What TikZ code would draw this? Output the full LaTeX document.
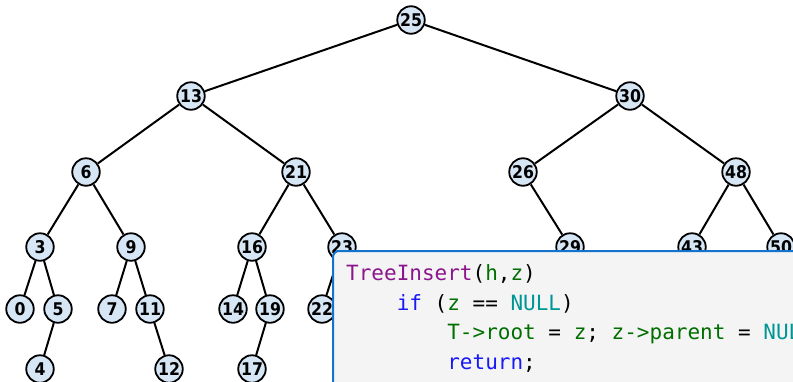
\documentclass[tikz,border=0pt]{standalone}
\usepackage{fontspec}
\newfontfamily\keyfont{DejaVu Sans Condensed}
\newfontfamily\codefont{DejaVu Sans Mono}
\usepackage{tikz}
\usetikzlibrary{positioning}

\definecolor{keyfill}{RGB}{215,230,245}
\definecolor{codeframe}{RGB}{20,115,205}
\definecolor{codebg}{RGB}{244,244,244}
\definecolor{cfunc}{RGB}{140,20,140}
\definecolor{cvar}{RGB}{0,110,0}
\definecolor{cctrl}{RGB}{25,25,245}
\definecolor{cconst}{RGB}{0,150,150}

\begin{document}
\begin{tikzpicture}[
    x=1pt, y=-1pt,
    key/.style={circle, draw=black, line width=1.8pt, fill=keyfill, minimum size=27.5pt, inner sep=0pt, font=\keyfont\bfseries\fontsize{17.5}{17.5}\selectfont},
    edge/.style={line width=2pt, black},
    codebox/.style={draw=codeframe, line width=2pt, fill=codebg, rounded corners=6pt},
    codeline/.style={anchor=base west, inner sep=0pt, font=\codefont\fontsize{21}{21}\selectfont}
]
    \useasboundingbox (0,0) rectangle (793,381);

    % --- Level 0
    \node[key] (k25) at (411, 20) {25};

    % --- Level 1
    \node[key] (k13) at (191, 96) {13};
    \node[key] (k30) at (630, 96) {30};

    % --- Level 2
    \node[key] (k6)  at (86, 172)  {6};
    \node[key] (k21) at (296, 172) {21};
    \node[key] (k26) at (523, 172) {26};
    \node[key] (k48) at (736, 172) {48};

    % --- Level 3
    \node[key] (k3)  at (40, 247)  {3};
    \node[key] (k9)  at (131, 247) {9};
    \node[key] (k16) at (252, 247) {16};
    \node[key] (k23) at (342, 247) {23};
    \node[key] (k29) at (570, 247) {29};
    \node[key] (k43) at (692, 247) {43};
    \node[key] (k50) at (781, 247) {50};

    % --- Level 4
    \node[key] (k0)  at (20, 309)  {0};
    \node[key] (k5)  at (58, 309)  {5};
    \node[key] (k7)  at (112, 309) {7};
    \node[key] (k11) at (150, 309) {11};
    \node[key] (k14) at (233, 309) {14};
    \node[key] (k19) at (270, 309) {19};
    \node[key] (k22) at (322, 309) {22};

    % --- Level 5
    \node[key] (k4)  at (40, 369)  {4};
    \node[key] (k12) at (169, 369) {12};
    \node[key] (k17) at (252, 369) {17};

    \draw[edge] (k25) -- (k13);
    \draw[edge] (k25) -- (k30);

    \draw[edge] (k13) -- (k6);
    \draw[edge] (k13) -- (k21);
    \draw[edge] (k30) -- (k26);
    \draw[edge] (k30) -- (k48);

    \draw[edge] (k6) -- (k3);
    \draw[edge] (k6) -- (k9);
    \draw[edge] (k21) -- (k16);
    \draw[edge] (k21) -- (k23);
    \draw[edge] (k26) -- (k29);
    \draw[edge] (k48) -- (k43);
    \draw[edge] (k48) -- (k50);

    \draw[edge] (k3) -- (k0);
    \draw[edge] (k3) -- (k5);
    \draw[edge] (k9) -- (k7);
    \draw[edge] (k9) -- (k11);
    \draw[edge] (k16) -- (k14);
    \draw[edge] (k16) -- (k19);
    \draw[edge] (k23) -- (k22);

    \draw[edge] (k5) -- (k4);
    \draw[edge] (k11) -- (k12);
    \draw[edge] (k19) -- (k17);

    % --- Code box (runs off the page)
    \draw[codebox] (333, 251) rectangle (820, 410);

    \node[codeline] (line1) at (346, 280) {\textcolor{cfunc}{TreeInsert}(\textcolor{cvar}{h},\textcolor{cvar}{z})};
    \node[codeline] (line2) at (346, 310) {\phantom{xxxx}\textcolor{cctrl}{if} (\textcolor{cvar}{z} == \textcolor{cconst}{NULL})};
    \node[codeline] (line3) at (346, 339.5) {\phantom{xxxxxxxx}\textcolor{cvar}{T->root} = \textcolor{cvar}{z}; \textcolor{cvar}{z->parent} = \textcolor{cconst}{NULL};};
    \node[codeline] (line4) at (346, 369) {\phantom{xxxxxxxx}\textcolor{cctrl}{return};};

\end{tikzpicture}
\end{document}
